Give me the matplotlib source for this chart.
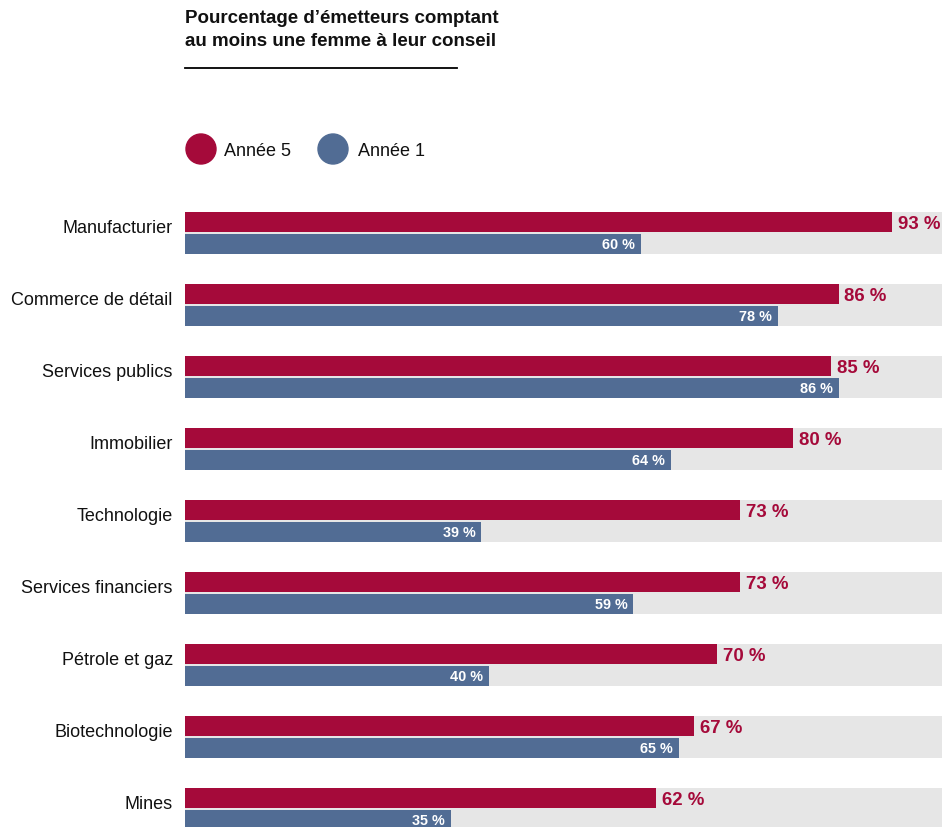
import numpy as np
import matplotlib.pyplot as plt
from matplotlib.patches import Circle

plt.rcParams['font.family'] = ['Liberation Sans', 'DejaVu Sans']

# Données
categories = [
    "Manufacturier",
    "Commerce de détail",
    "Services publics",
    "Immobilier",
    "Technologie",
    "Services financiers",
    "Pétrole et gaz",
    "Biotechnologie",
    "Mines",
]
annee5 = [93, 86, 85, 80, 73, 73, 70, 67, 62]
annee1 = [60, 78, 86, 64, 39, 59, 40, 65, 35]

rouge = "#A50A3A"
bleu = "#516C94"
gris = "#E6E6E6"

W, H = 942, 827
fig = plt.figure(figsize=(W / 100, H / 100), dpi=100)

# Axe des barres
ax = fig.add_axes([185 / W, 0, 1 - 185 / W, 1 - 200 / H])
y = np.arange(len(categories))
h = 20 / 72
dy = 11 / 72

ax.barh(y, [100] * len(y), height=42 / 72, color=gris, zorder=1)
ax.barh(y - dy, annee5, height=h, color=rouge, zorder=2)
ax.barh(y + dy, annee1, height=h, color=bleu, zorder=2)

for i, (v5, v1) in enumerate(zip(annee5, annee1)):
    ax.text(v5 + 0.75, i - dy + 0.03, f"{v5} %", color=rouge, fontsize=13.4,
            fontweight="bold", va="center", ha="left", zorder=3)
    ax.text(v1 - 0.8, i + dy + 0.01, f"{v1} %", color="white", fontsize=10.4,
            fontweight="bold", va="center", ha="right", zorder=3)
    ax.text(-1.6, i - 0.065, categories[i], fontsize=13, color="#111111",
            va="center", ha="right", zorder=3)

ax.set_xlim(0, 757 / 7.6)
ax.set_ylim(8.25, -0.458)
ax.axis("off")

# Titre
fig.text(185 / W, 1 - 10 / H, "Pourcentage d’émetteurs comptant\nau moins une femme à leur conseil",
         fontsize=13.5, fontweight="bold", va="top", ha="left",
         linespacing=1.47, color="#111111")
fig.add_artist(plt.Line2D([185 / W, 457 / W], [1 - 68 / H, 1 - 68 / H],
                          color="black", lw=1.3))

# Légende
for cx, tx, col, lab in [(201, 224, rouge, "Année 5"), (333, 358, bleu, "Année 1")]:
    fig.add_artist(Circle((cx / 100, (H - 149) / 100), 0.15, color=col,
                          transform=fig.dpi_scale_trans))
    fig.text(tx / W, 1 - 152 / H, lab, fontsize=13, va="center", ha="left",
             color="#111111")

fig.savefig("out.png", dpi=100)
